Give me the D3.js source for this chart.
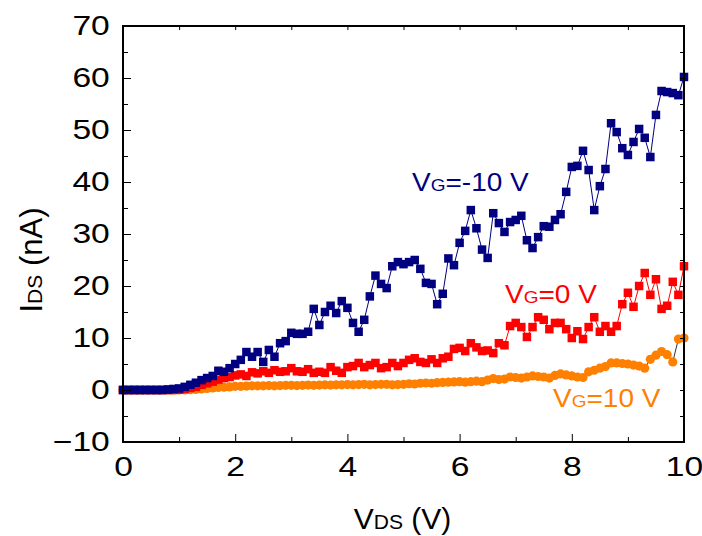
<!DOCTYPE html>
<html>
<head>
<meta charset="utf-8">
<script src="https://cdn.jsdelivr.net/npm/d3@7/dist/d3.min.js"></script>
<style>
  html, body { margin: 0; padding: 0; background: #fff; }
  svg { display: block; font-family: "Liberation Sans", Arial, sans-serif; }
</style>
</head>
<body>
<svg id="chart" width="702" height="536"></svg>
<script>
// Drain-source sweep, 0 to 10 V in 0.1 V steps
const vds = d3.range(0, 101).map(i => i / 10);

// I_DS (nA) at V_G = -10 V
const idsNeg10 = [
  0, 0, 0, 0, 0, 0, 0, 0, 0.1, 0.2,
  0.3, 0.6, 1.0, 1.4, 1.9, 2.3, 2.7, 3.7, 3.5, 4.2,
  5.0, 5.8, 7.3, 6.4, 7.3, 5.4, 7.7, 6.4, 9.0, 9.4,
  11.0, 10.8, 10.8, 11.2, 15.6, 12.5, 15.0, 16.2, 14.8, 17.1,
  15.8, 12.9, 11.2, 13.5, 18.0, 22.0, 20.4, 19.6, 23.8, 24.6,
  24.2, 24.6, 25.0, 23.3, 20.6, 20.4, 16.5, 18.5, 25.3, 24.0,
  28.3, 30.6, 34.6, 31.1, 27.0, 25.4, 34.0, 32.1, 30.4, 32.3,
  32.7, 33.5, 28.8, 27.3, 29.4, 31.5, 31.4, 32.7, 33.8, 38.1,
  42.9, 43.1, 46.0, 42.3, 34.6, 39.2, 42.5, 51.3, 49.6, 46.5,
  45.2, 47.7, 50.2, 48.5, 44.8, 52.9, 57.5, 57.3, 57.1, 56.7,
  60.2
];

// I_DS (nA) at V_G = 0 V
const ids0 = [
  0, 0, 0, 0, 0, 0, 0, 0, 0, 0,
  0.05, 0.2, 0.4, 0.6, 1.0, 1.3, 1.6, 2.0, 2.3, 2.5,
  2.8, 3.0, 2.7, 3.4, 3.2, 3.6, 3.3, 3.8, 3.5, 3.6,
  4.2, 3.6, 3.5, 4.0, 3.3, 3.5, 3.3, 4.4, 3.7, 3.3,
  4.4, 4.6, 5.2, 4.4, 4.8, 5.2, 4.2, 4.4, 5.2, 4.6,
  5.2, 5.8, 6.1, 5.4, 5.2, 5.9, 5.2, 6.1, 6.4, 7.9,
  8.1, 7.5, 9.0, 8.2, 7.5, 7.6, 7.1, 9.0, 8.6, 12.3,
  12.9, 12.1, 10.2, 12.1, 14.0, 13.5, 11.7, 12.9, 12.9, 11.7,
  10.0, 11.3, 9.8, 12.1, 14.0, 11.2, 12.3, 11.2, 12.3, 16.5,
  18.7, 16.0, 20.0, 22.5, 18.3, 21.3, 15.6, 16.2, 20.8, 18.3,
  23.8
];

// I_DS (nA) at V_G = 10 V
const ids10 = [
  0, 0, 0, 0, 0, 0, 0, 0, 0, 0,
  0, 0, 0.05, 0.1, 0.2, 0.3, 0.4, 0.5, 0.55, 0.6,
  0.7, 0.7, 0.75, 0.8, 0.8, 0.8, 0.85, 0.8, 0.85, 0.9,
  0.9, 0.85, 0.9, 0.95, 0.9, 0.95, 1.0, 0.95, 1.0, 1.0,
  1.05, 1.0, 1.05, 1.1, 1.0, 1.05, 1.1, 1.1, 1.0, 1.05,
  1.1, 1.2, 1.15, 1.3, 1.35, 1.3, 1.4, 1.45, 1.5, 1.55,
  1.6, 1.5, 1.6, 1.7, 1.6, 1.9, 2.2, 2.0, 2.1, 2.5,
  2.4, 2.3, 2.5, 2.7, 2.6, 2.5, 2.3, 2.8, 3.1, 2.9,
  2.7, 2.5, 2.4, 3.5, 3.8, 4.2, 4.5, 5.2, 5.2, 5.1,
  5.0, 4.8, 4.6, 4.2, 5.9, 6.7, 7.4, 6.8, 5.4, 9.8,
  10.0
];

const xTicks = [0, 2, 4, 6, 8, 10];
const xMinor = [1, 3, 5, 7, 9];
const yTicks = [-10, 0, 10, 20, 30, 40, 50, 60, 70];
const yMinor = [-5, 5, 15, 25, 35, 45, 55, 65];

const svg = d3.select("#chart");
const plotLeft = 123, plotRight = 684, plotTop = 26, plotBottom = 442;

const x = d3.scaleLinear().domain([0, 10]).range([plotLeft, plotRight]);
const y = d3.scaleLinear().domain([-10, 70]).range([plotBottom, plotTop]);

const pts = vals => vds.map((v, i) => [v, vals[i]]);
const line = d3.line().x(d => x(d[0])).y(d => y(d[1]));

const series = [
  { vals: ids10, color: "#ff8000", lineColor: "#333333", shape: "circle" },
  { vals: ids0, color: "#ff0000", lineColor: "#ff0000", shape: "square" },
  { vals: idsNeg10, color: "#000080", lineColor: "#000080", shape: "square" }
];

const plot = svg.append("g");
const half = 4.25;
series.forEach(s => {
  const data = pts(s.vals);
  plot.append("path")
    .attr("d", line(data))
    .attr("fill", "none")
    .attr("stroke", s.lineColor)
    .attr("stroke-width", 1);
  if (s.shape === "square") {
    plot.append("g").selectAll("rect").data(data).join("rect")
      .attr("x", d => x(d[0]) - half)
      .attr("y", d => y(d[1]) - half)
      .attr("width", half * 2)
      .attr("height", half * 2)
      .attr("fill", s.color);
  } else {
    plot.append("g").selectAll("circle").data(data).join("circle")
      .attr("cx", d => x(d[0]))
      .attr("cy", d => y(d[1]))
      .attr("r", 4.6)
      .attr("fill", s.color);
  }
});

// Axes: ticks point inward on all four sides
const tickFmt = d => d3.format("d")(d);
const axisStyle = g => {
  g.select(".domain").remove();
  g.selectAll(".tick line").attr("stroke", "#000").attr("stroke-width", 1);
  g.selectAll(".tick text").attr("font-size", 28).attr("fill", "#000")
    .attr("font-family", "'Liberation Sans', Arial, sans-serif")
    .attr("transform", "scale(1.2,1)");
};

svg.append("g").attr("transform", `translate(0,${plotBottom})`)
  .call(d3.axisBottom(x).tickValues(xTicks).tickFormat(tickFmt).tickSizeInner(-8).tickPadding(14))
  .call(axisStyle);
svg.append("g").attr("transform", `translate(0,${plotBottom})`)
  .call(d3.axisBottom(x).tickValues(xMinor).tickFormat("").tickSizeInner(-5))
  .call(axisStyle);
svg.append("g").attr("transform", `translate(0,${plotTop})`)
  .call(d3.axisTop(x).tickValues(xTicks.concat(xMinor)).tickFormat("").tickSizeInner(-4))
  .call(axisStyle);

svg.append("g").attr("transform", `translate(${plotLeft},0)`)
  .call(d3.axisLeft(y).tickValues(yTicks).tickFormat(tickFmt).tickSizeInner(-8).tickPadding(11))
  .call(axisStyle);
svg.append("g").attr("transform", `translate(${plotLeft},0)`)
  .call(d3.axisLeft(y).tickValues(yMinor).tickFormat("").tickSizeInner(-5))
  .call(axisStyle);
svg.append("g").attr("transform", `translate(${plotRight},0)`)
  .call(d3.axisRight(y).tickValues(yTicks.concat(yMinor)).tickFormat("").tickSizeInner(-4))
  .call(axisStyle);

// Frame
svg.append("rect")
  .attr("x", plotLeft).attr("y", plotTop)
  .attr("width", plotRight - plotLeft).attr("height", plotBottom - plotTop)
  .attr("fill", "none").attr("stroke", "#000").attr("stroke-width", 2);

// Labels with subscripts
function subLabel(sel, main, sub, rest, size, subSize) {
  sel.append("tspan").text(main);
  sel.append("tspan").attr("font-size", subSize).text(sub);
  sel.append("tspan").text(rest);
  sel.attr("font-size", size);
}

svg.append("text")
  .attr("transform", `translate(${(plotLeft + plotRight) / 2 - 1},529)`)
  .attr("text-anchor", "middle").attr("fill", "#000")
  .call(subLabel, "V", "DS", " (V)", 30, 21);

svg.append("text")
  .attr("transform", `translate(42,260) rotate(-90)`)
  .attr("text-anchor", "middle").attr("fill", "#000")
  .call(subLabel, "I", "DS", " (nA)", 31, 21);

const curveLabels = [
  { x: 412, y: 191, color: "#000080", rest: "=-10 V" },
  { x: 505, y: 303, color: "#ff0000", rest: "=0 V" },
  { x: 553, y: 407, color: "#ff8000", rest: "=10 V" }
];
curveLabels.forEach(c => {
  svg.append("text")
    .attr("transform", `translate(${c.x},${c.y}) scale(1.12,1)`)
    .attr("fill", c.color)
    .call(subLabel, "V", "G", c.rest, 25, 17);
});
</script>
</body>
</html>
